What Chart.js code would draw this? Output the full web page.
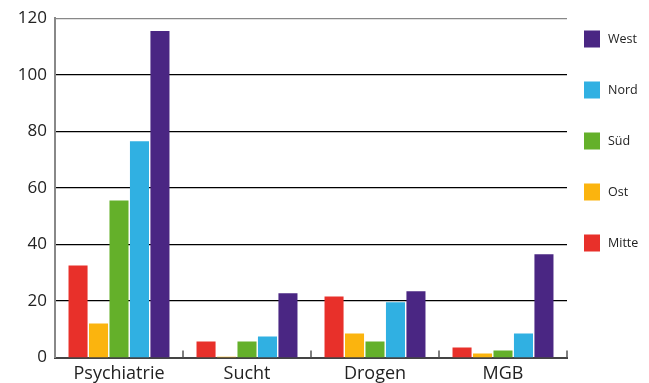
<!DOCTYPE html>
<html>
<head>
<meta charset="utf-8">
<script src="https://cdn.jsdelivr.net/npm/chart.js@4/dist/chart.umd.min.js"></script>
<style>
  body { margin: 0; background: #fff; }
  #wrap { width: 649px; height: 383px; }
</style>
</head>
<body>
<div id="wrap"><canvas id="chart"></canvas></div>
<script>
// categories and series values
const categories = ['Psychiatrie', 'Sucht', 'Drogen', 'MGB'];
const mitte = [32.5, 5.7, 21.6, 3.5];
const ost = [12, 0.3, 8.5, 1.4];
const sued = [55.5, 5.7, 5.7, 2.5];
const nord = [76.5, 7.4, 19.5, 8.5];
const west = [115.5, 22.7, 23.4, 36.5];
const yTicks = [0, 20, 40, 60, 80, 100, 120];

const font = "'Open Sans', 'DejaVu Sans', sans-serif";

// small upward ticks on the x axis between categories
const categoryTicks = {
  id: 'categoryTicks',
  afterDraw(chart) {
    const x = chart.scales.x;
    const ctx = chart.ctx;
    const bottom = chart.chartArea.bottom;
    const half = (x.getPixelForValue(1) - x.getPixelForValue(0)) / 2;
    ctx.save();
    ctx.strokeStyle = '#555';
    ctx.lineWidth = 1.5;
    for (let i = 0; i < categories.length; i++) {
      const px = x.getPixelForValue(i) + half;
      ctx.beginPath();
      ctx.moveTo(px, bottom);
      ctx.lineTo(px, bottom - 7);
      ctx.stroke();
    }
    ctx.restore();
  }
};

// legend in the right margin, West on top, widely spaced
const sideLegend = {
  id: 'sideLegend',
  afterDraw(chart) {
    const ctx = chart.ctx;
    const sets = chart.data.datasets.slice().reverse();
    ctx.save();
    ctx.font = '12.5px ' + font;
    ctx.textBaseline = 'middle';
    sets.forEach((ds, i) => {
      const cy = 38.5 + i * 51;
      ctx.fillStyle = ds.backgroundColor;
      ctx.fillRect(584, cy - 8, 16, 17);
      ctx.fillStyle = '#222';
      ctx.fillText(ds.label, 608, cy + 1);
    });
    ctx.restore();
  }
};

new Chart(document.getElementById('chart'), {
  type: 'bar',
  data: {
    labels: categories,
    datasets: [
      { label: 'Mitte', data: mitte, backgroundColor: '#E8302A' },
      { label: 'Ost', data: ost, backgroundColor: '#FBB40E' },
      { label: 'Süd', data: sued, backgroundColor: '#64B02A' },
      { label: 'Nord', data: nord, backgroundColor: '#30B0E2' },
      { label: 'West', data: west, backgroundColor: '#4A2683' }
    ]
  },
  options: {
    responsive: true,
    maintainAspectRatio: false,
    animation: false,
    layout: { padding: { top: 11, right: 82, left: 4, bottom: 0 } },
    datasets: { bar: { categoryPercentage: 0.8, barPercentage: 0.93 } },
    plugins: {
      tooltip: { enabled: false },
      legend: { display: false }
    },
    scales: {
      x: {
        afterFit(axis) { axis.height = 25.5; },
        grid: { display: false, drawTicks: false },
        border: { color: '#444', width: 2 },
        ticks: { color: '#222', font: { family: font, size: 18 }, padding: 6 }
      },
      y: {
        min: 0,
        max: 120,
        afterFit(axis) { axis.width = 51; },
        afterBuildTicks(axis) { axis.ticks = yTicks.map(v => ({ value: v })); },
        grid: {
          drawTicks: false,
          color: ctx => ctx.tick.value === 120 ? '#888' : '#000',
          lineWidth: ctx => ctx.tick.value === 0 ? 0 : 1.2
        },
        border: { color: '#888', width: 2 },
        ticks: { color: '#222', font: { family: font, size: 17 }, padding: 8 }
      }
    }
  },
  plugins: [categoryTicks, sideLegend]
});
</script>
</body>
</html>
